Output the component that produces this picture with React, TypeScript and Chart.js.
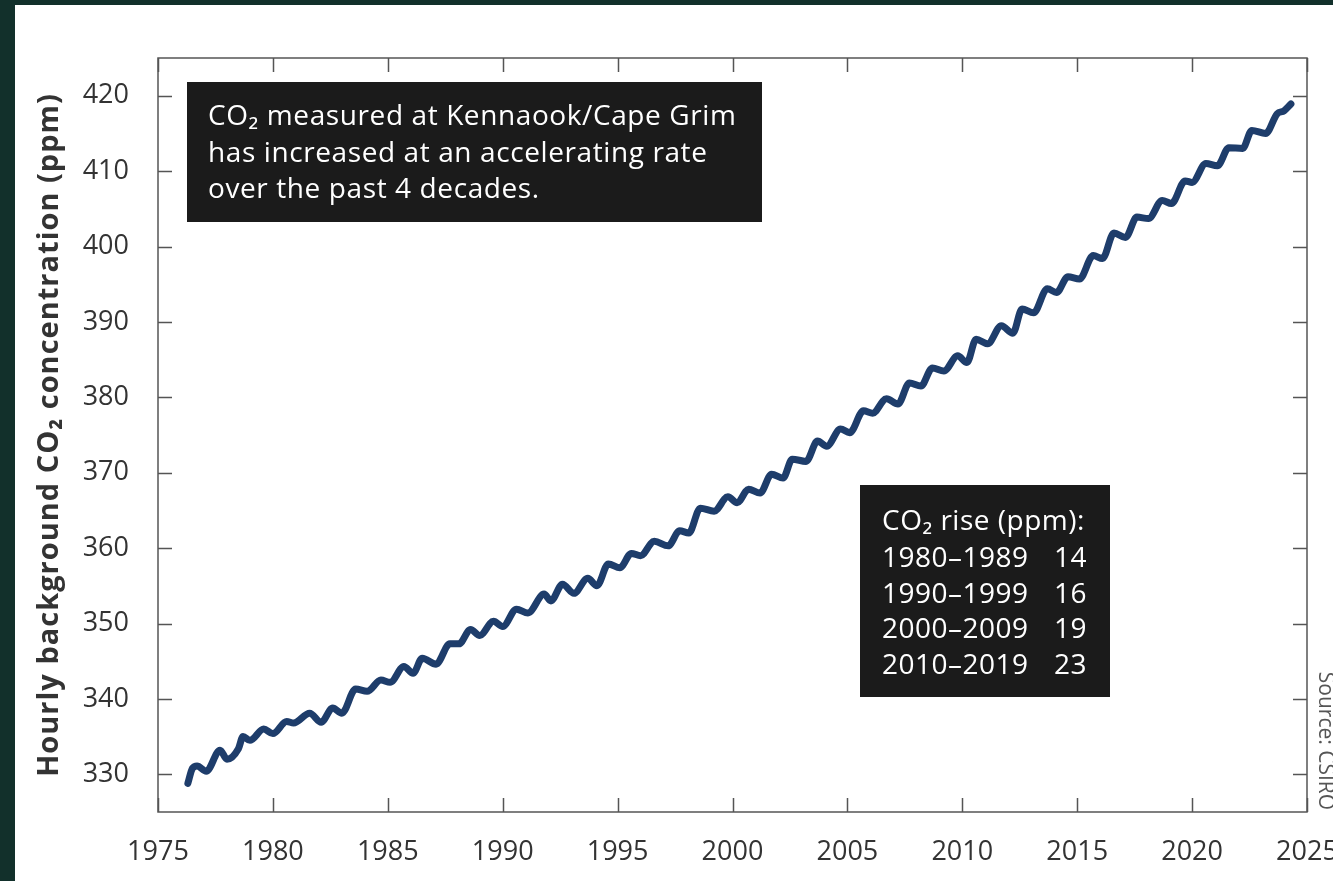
import React, { useEffect, useRef } from "react";
import { Chart, registerables } from "chart.js";

Chart.register(...registerables);

const YEARS = [
  1976.3, 1976.5, 1976.7, 1977.1, 1977.7, 1978.0, 1978.5, 1978.7, 1979.0, 1979.6,
  1980.0, 1980.6, 1980.9, 1981.6, 1982.1, 1982.6, 1983.0, 1983.6, 1984.1, 1984.7,
  1985.1, 1985.7, 1986.1, 1986.5, 1987.1, 1987.7, 1988.1, 1988.6, 1989.0, 1989.6,
  1990.0, 1990.6, 1991.1, 1991.8, 1992.1, 1992.6, 1993.1, 1993.7, 1994.1, 1994.6,
  1995.1, 1995.6, 1996.0, 1996.6, 1997.2, 1997.7, 1998.1, 1998.6, 1999.2, 1999.8,
  2000.2, 2000.7, 2001.2, 2001.7, 2002.2, 2002.6, 2003.2, 2003.7, 2004.1, 2004.7,
  2005.1, 2005.7, 2006.1, 2006.7, 2007.2, 2007.7, 2008.2, 2008.7, 2009.2, 2009.8,
  2010.2, 2010.6, 2011.1, 2011.7, 2012.2, 2012.6, 2013.1, 2013.7, 2014.1, 2014.6,
  2015.1, 2015.7, 2016.1, 2016.6, 2017.1, 2017.6, 2018.1, 2018.7, 2019.1, 2019.7,
  2020.0, 2020.6, 2021.1, 2021.6, 2022.2, 2022.6, 2023.2, 2023.7, 2024.0, 2024.3,
];

const CO2 = [
  328.8, 330.8, 331.1, 330.4, 333.2, 332.0, 333.4, 335.0, 334.5, 336.0,
  335.4, 337.0, 336.8, 338.1, 336.9, 338.8, 338.1, 341.3, 341.0, 342.5,
  342.2, 344.3, 343.4, 345.4, 344.6, 347.3, 347.3, 349.2, 348.4, 350.3,
  349.6, 351.9, 351.4, 353.9, 353.0, 355.2, 354.0, 356.0, 355.0, 357.9,
  357.4, 359.3, 359.0, 360.9, 360.3, 362.3, 362.0, 365.3, 364.9, 366.8,
  366.0, 367.8, 367.3, 369.8, 369.3, 371.8, 371.5, 374.2, 373.5, 375.8,
  375.3, 378.2, 377.9, 379.8, 379.1, 381.9, 381.5, 383.9, 383.5, 385.5,
  384.6, 387.7, 387.1, 389.5, 388.5, 391.7, 391.2, 394.4, 393.9, 396.0,
  395.7, 398.8, 398.4, 401.8, 401.2, 403.9, 403.7, 406.1, 405.7, 408.7,
  408.5, 411.0, 410.7, 413.1, 413.0, 415.4, 415.0, 417.6, 418.0, 418.9,
];

const X_TICKS = [1975, 1980, 1985, 1990, 1995, 2000, 2005, 2010, 2015, 2020, 2025];
const Y_TICKS = [330, 340, 350, 360, 370, 380, 390, 400, 410, 420];

const Y_TITLE = "Hourly background CO₂ concentration (ppm)";
const SOURCE = "Source: CSIRO";
const NOTE_LINES = [
  "CO₂ measured at Kennaook/Cape Grim",
  "has increased at an accelerating rate",
  "over the past 4 decades.",
];
const RISE_TITLE = "CO₂ rise (ppm):";
const RISE_PERIODS = ["1980–1989", "1990–1999", "2000–2009", "2010–2019"];
const RISE_VALUES = ["14", "16", "19", "23"];

const FONT = '"Open Sans", "Noto Sans", sans-serif';
const BG_DARK = "#12302b";
const FRAME = "#555555";
const TEXT = "#333333";
const LINE = "#1e3d6b";
const BOX = "#1b1b1b";

const decorPlugin = {
  id: "decor",
  beforeDraw(chart: any) {
    const { ctx, width, height } = chart;
    ctx.save();
    ctx.fillStyle = BG_DARK;
    ctx.fillRect(0, 0, width, height);
    ctx.fillStyle = "#ffffff";
    ctx.fillRect(15, 5, width - 15, height - 5);
    ctx.restore();
  },
  afterDraw(chart: any) {
    const { ctx, chartArea } = chart;
    const { left, right, top, bottom } = chartArea;
    const xs = chart.scales.x;
    const ys = chart.scales.y;
    ctx.save();
    // frame
    ctx.strokeStyle = FRAME;
    ctx.lineWidth = 1.5;
    ctx.strokeRect(left, top, right - left, bottom - top);
    // inward ticks
    const tl = 14;
    ctx.beginPath();
    X_TICKS.forEach((v) => {
      const px = Math.round(xs.getPixelForValue(v)) + 0.5;
      ctx.moveTo(px, bottom);
      ctx.lineTo(px, bottom - tl);
      ctx.moveTo(px, top);
      ctx.lineTo(px, top + tl);
    });
    Y_TICKS.forEach((v) => {
      const py = Math.round(ys.getPixelForValue(v)) + 0.5;
      ctx.moveTo(left, py);
      ctx.lineTo(left + tl, py);
      ctx.moveTo(right, py);
      ctx.lineTo(right - tl, py);
    });
    ctx.stroke();

    // y title
    ctx.fillStyle = TEXT;
    ctx.font = `bold 29px ${FONT}`;
    ctx.letterSpacing = "1px";
    ctx.textAlign = "center";
    ctx.textBaseline = "middle";
    ctx.save();
    ctx.translate(50, (top + bottom) / 2);
    ctx.rotate(-Math.PI / 2);
    ctx.fillText(Y_TITLE, 0, 0);
    ctx.restore();
    ctx.letterSpacing = "0px";

    // source
    ctx.save();
    ctx.fillStyle = "#555555";
    ctx.font = `21px ${FONT}`;
    ctx.textAlign = "center";
    ctx.textBaseline = "alphabetic";
    ctx.translate(right + 12, 741);
    ctx.rotate(Math.PI / 2);
    ctx.fillText(SOURCE, 0, 0);
    ctx.restore();

    // note box
    ctx.fillStyle = BOX;
    ctx.fillRect(left + 29, top + 24, 575, 140);
    ctx.fillStyle = "#ffffff";
    ctx.font = `28px ${FONT}`;
    ctx.letterSpacing = "0.6px";
    ctx.textAlign = "left";
    ctx.textBaseline = "alphabetic";
    NOTE_LINES.forEach((t, i) => {
      ctx.fillText(t, left + 50, top + 67 + i * 36.5);
    });

    // rise box
    const bx = 860;
    const by = 485;
    ctx.fillStyle = BOX;
    ctx.fillRect(bx, by, 250, 212);
    ctx.fillStyle = "#ffffff";
    ctx.font = `28px ${FONT}`;
    ctx.letterSpacing = "0.5px";
    ctx.textAlign = "left";
    ctx.fillText(RISE_TITLE, bx + 22, by + 45);
    RISE_PERIODS.forEach((p, i) => {
      const yy = by + 82 + i * 35.7;
      ctx.textAlign = "left";
      ctx.fillText(p, bx + 22, yy);
      ctx.textAlign = "right";
      ctx.fillText(RISE_VALUES[i], bx + 227, yy);
    });
    ctx.letterSpacing = "0px";
    ctx.restore();
  },
};

export default function App() {
  const ref = useRef<HTMLCanvasElement | null>(null);

  useEffect(() => {
    if (!ref.current) return;
    const points = YEARS.map((x, i) => ({ x, y: CO2[i] }));
    const chart = new Chart(ref.current, {
      type: "line",
      data: {
        datasets: [
          {
            data: points,
            borderColor: LINE,
            borderWidth: 7,
            pointRadius: 0,
            fill: false,
            cubicInterpolationMode: "monotone",
            borderCapStyle: "round",
            borderJoinStyle: "round",
          },
        ],
      },
      options: {
        animation: false,
        responsive: false,
        maintainAspectRatio: false,
        events: [],
        layout: { padding: { left: 0, right: 53, top: 58, bottom: 0 } },
        plugins: {
          legend: { display: false },
          tooltip: { enabled: false },
          title: { display: false },
        },
        scales: {
          x: {
            type: "linear",
            min: 1975,
            max: 2025,
            grid: { display: false },
            border: { display: false },
            afterBuildTicks: (s: any) => {
              s.ticks = X_TICKS.map((v) => ({ value: v }));
            },
            afterFit: (s: any) => {
              s.height = 69;
            },
            ticks: {
              autoSkip: false,
              maxRotation: 0,
              padding: 16,
              color: TEXT,
              font: { family: FONT, size: 27 },
              callback: (v: any) => String(v),
            },
          },
          y: {
            type: "linear",
            min: 325,
            max: 425,
            grid: { display: false },
            border: { display: false },
            afterBuildTicks: (s: any) => {
              s.ticks = Y_TICKS.map((v) => ({ value: v }));
            },
            afterFit: (s: any) => {
              s.width = 158;
            },
            ticks: {
              autoSkip: false,
              padding: 21,
              color: TEXT,
              font: { family: FONT, size: 27 },
              callback: (v: any) => String(v),
            },
          },
        },
      },
      plugins: [decorPlugin],
    });
    return () => chart.destroy();
  }, []);

  return (
    <div
      style={{
        position: "fixed",
        left: 0,
        top: 0,
        width: 1333,
        height: 881,
        overflow: "hidden",
        background: BG_DARK,
      }}
    >
      <canvas
        ref={ref}
        width={1360}
        height={881}
        style={{ position: "absolute", left: 0, top: 0, width: 1360, height: 881 }}
      />
    </div>
  );
}
